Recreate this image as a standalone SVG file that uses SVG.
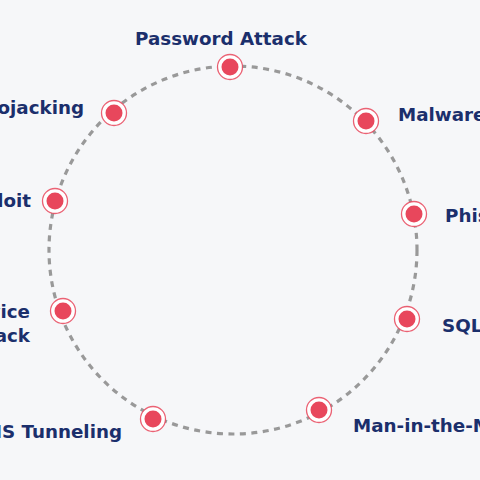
<svg xmlns="http://www.w3.org/2000/svg" width="480" height="480" viewBox="0 0 480 480">
<style>
.lbl{font-family:"DejaVu Sans",sans-serif;font-weight:bold;font-size:18.3px;fill:#1b2f6c}
.ring{fill:#ffffff;stroke:#e8475c;stroke-width:1.3;stroke-opacity:0.85}
.dot{fill:#e8475c}
</style>
<rect width="480" height="480" fill="#f6f7f9"/>
<g id="connectors">
<circle cx="233" cy="250" r="184" fill="none" stroke="#999999" stroke-width="3.2" stroke-dasharray="6 5.5"/>
</g>
<g id="n-password"><circle class="ring" cx="230" cy="67" r="12.5"/><circle class="dot" cx="230" cy="67" r="8.5"/><text class="lbl" x="221" y="45" text-anchor="middle">Password Attack</text></g>
<g id="n-malware"><circle class="ring" cx="366" cy="121" r="12.5"/><circle class="dot" cx="366" cy="121" r="8.5"/><text class="lbl" x="398" y="121">Malware Attack</text></g>
<g id="n-phishing"><circle class="ring" cx="414" cy="214" r="12.5"/><circle class="dot" cx="414" cy="214" r="8.5"/><text class="lbl" x="445" y="222">Phishing</text></g>
<g id="n-sql"><circle class="ring" cx="407" cy="319" r="12.5"/><circle class="dot" cx="407" cy="319" r="8.5"/><text class="lbl" x="442" y="332">SQL Injection</text></g>
<g id="n-mitm"><circle class="ring" cx="319" cy="410" r="12.5"/><circle class="dot" cx="319" cy="410" r="8.5"/><text class="lbl" x="353" y="432">Man-in-the-Middle</text></g>
<g id="n-dns"><circle class="ring" cx="153" cy="419" r="12.5"/><circle class="dot" cx="153" cy="419" r="8.5"/><text class="lbl" x="122" y="438" text-anchor="end">DNS Tunneling</text></g>
<g id="n-dos"><circle class="ring" cx="63" cy="311" r="12.5"/><circle class="dot" cx="63" cy="311" r="8.5"/><text class="lbl" x="30" y="318" text-anchor="end">Denial-of-Service</text><text class="lbl" x="30" y="342" text-anchor="end">Attack</text></g>
<g id="n-exploit"><circle class="ring" cx="55" cy="201" r="12.5"/><circle class="dot" cx="55" cy="201" r="8.5"/><text class="lbl" x="31" y="207" text-anchor="end">Zero-Day Exploit</text></g>
<g id="n-crypto"><circle class="ring" cx="114" cy="113" r="12.5"/><circle class="dot" cx="114" cy="113" r="8.5"/><text class="lbl" x="84" y="114" text-anchor="end">Cryptojacking</text></g>
</svg>
